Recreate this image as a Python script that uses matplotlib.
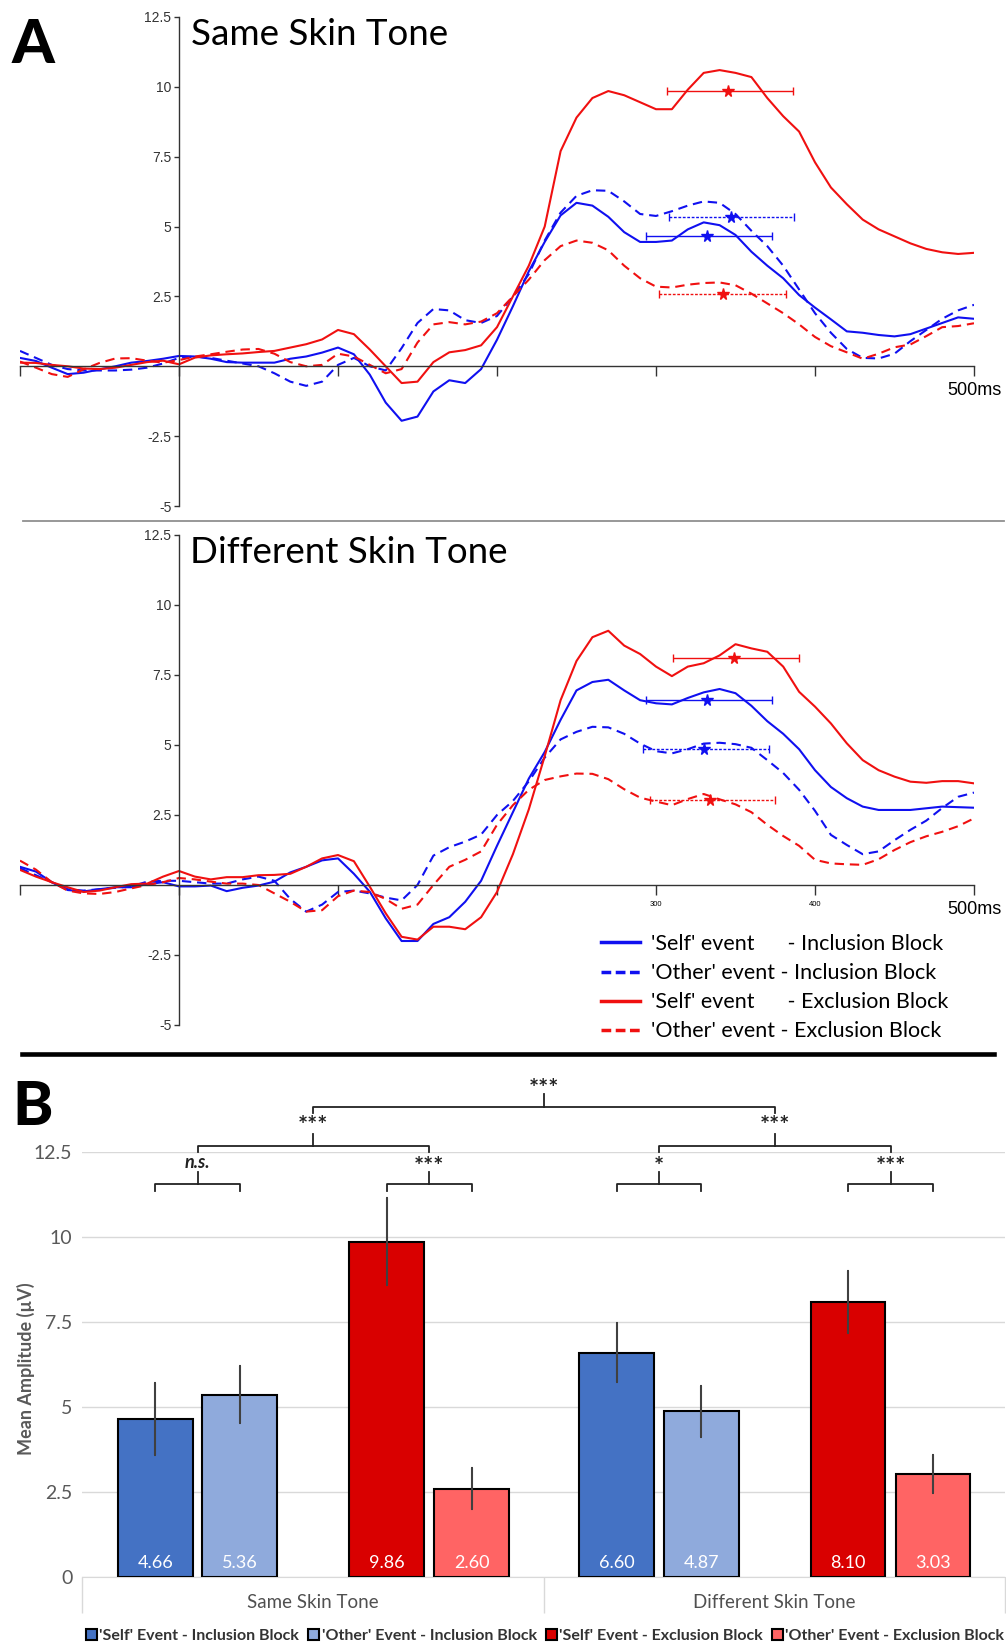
import numpy as np
import matplotlib.pyplot as plt
from matplotlib.lines import Line2D

plt.rcParams['font.family'] = ['Lato', 'DejaVu Sans']

# ERP time axis (ms), one sample every 10 ms
times = np.arange(-100, 510, 10)

# panel A, same skin tone (µV)
same_self_incl = [0.30, 0.19, -0.05, -0.28, -0.23, -0.11, 0.00, 0.13, 0.19, 0.27,
                  0.37, 0.35, 0.27, 0.15, 0.13, 0.13, 0.13, 0.27, 0.35, 0.49,
                  0.67, 0.43, -0.30, -1.30, -1.95, -1.80, -0.90, -0.50, -0.60, -0.10,
                  0.95, 2.15, 3.40, 4.45, 5.40, 5.85, 5.75, 5.35, 4.80, 4.45,
                  4.45, 4.50, 4.90, 5.15, 5.05, 4.70, 4.10, 3.60, 3.15, 2.55,
                  2.10, 1.68, 1.25, 1.20, 1.12, 1.07, 1.15, 1.35, 1.55, 1.75,
                  1.70]
same_other_incl = [0.55, 0.30, 0.05, -0.10, -0.15, -0.15, -0.15, -0.12, -0.05, 0.10,
                   0.30, 0.35, 0.30, 0.20, 0.10, 0.00, -0.25, -0.55, -0.70, -0.55,
                   0.05, 0.30, 0.00, -0.15, 0.65, 1.55, 2.05, 2.00, 1.65, 1.55,
                   1.80, 2.50, 3.30, 4.50, 5.50, 6.10, 6.30, 6.28, 5.90, 5.45,
                   5.38, 5.55, 5.75, 5.90, 5.85, 5.45, 4.85, 4.30, 3.60, 2.75,
                   1.90, 1.20, 0.62, 0.30, 0.28, 0.45, 0.90, 1.30, 1.70, 2.00,
                   2.20]
same_self_excl = [0.13, 0.12, 0.05, 0.00, -0.08, -0.10, -0.05, 0.05, 0.15, 0.20,
                  0.07, 0.31, 0.39, 0.43, 0.46, 0.51, 0.55, 0.67, 0.79, 0.96,
                  1.30, 1.15, 0.60, 0.00, -0.60, -0.55, 0.15, 0.50, 0.58, 0.75,
                  1.40, 2.50, 3.60, 5.00, 7.70, 8.90, 9.60, 9.85, 9.70, 9.45,
                  9.20, 9.20, 9.90, 10.50, 10.60, 10.50, 10.35, 9.60, 8.95, 8.40,
                  7.30, 6.40, 5.80, 5.25, 4.90, 4.65, 4.40, 4.20, 4.08, 4.02,
                  4.06]
same_other_excl = [0.17, -0.05, -0.28, -0.38, -0.11, 0.12, 0.28, 0.29, 0.20, 0.13,
                   0.22, 0.35, 0.43, 0.52, 0.60, 0.62, 0.45, 0.15, 0.00, 0.05,
                   0.45, 0.35, 0.05, -0.25, -0.10, 0.85, 1.50, 1.58, 1.50, 1.60,
                   1.90, 2.50, 3.10, 3.80, 4.30, 4.50, 4.42, 4.15, 3.60, 3.15,
                   2.85, 2.82, 2.92, 2.98, 3.00, 2.90, 2.60, 2.25, 1.90, 1.50,
                   1.05, 0.72, 0.50, 0.27, 0.45, 0.68, 0.78, 1.08, 1.40, 1.44,
                   1.54]

# panel A, different skin tone (µV)
diff_self_incl = [0.65, 0.48, 0.10, -0.18, -0.23, -0.15, -0.08, -0.08, 0.03, 0.10,
                  -0.05, -0.05, -0.02, -0.22, -0.10, -0.02, 0.12, 0.45, 0.65, 0.88,
                  0.95, 0.40, -0.24, -1.19, -2.00, -2.00, -1.39, -1.15, -0.60, 0.15,
                  1.40, 2.60, 3.80, 4.75, 5.90, 6.95, 7.25, 7.33, 6.95, 6.60,
                  6.49, 6.45, 6.68, 6.88, 7.00, 6.85, 6.40, 5.85, 5.40, 4.85,
                  4.10, 3.50, 3.10, 2.80, 2.68, 2.68, 2.68, 2.74, 2.80, 2.78,
                  2.76]
diff_other_incl = [0.60, 0.35, 0.10, -0.15, -0.20, -0.15, -0.10, -0.05, 0.12, 0.15,
                   0.15, 0.10, 0.05, 0.05, 0.20, 0.30, 0.15, -0.50, -0.95, -0.70,
                   -0.25, -0.20, -0.30, -0.45, -0.55, 0.00, 1.05, 1.35, 1.55, 1.80,
                   2.50, 3.00, 3.70, 4.55, 5.20, 5.47, 5.65, 5.63, 5.40, 5.05,
                   4.78, 4.70, 4.85, 5.05, 5.08, 5.03, 4.90, 4.46, 4.00, 3.40,
                   2.65, 1.79, 1.43, 1.10, 1.20, 1.60, 1.97, 2.30, 2.75, 3.15,
                   3.30]
diff_self_excl = [0.54, 0.30, 0.10, -0.08, -0.25, -0.20, -0.08, 0.03, 0.05, 0.30,
                  0.50, 0.30, 0.20, 0.28, 0.28, 0.35, 0.36, 0.40, 0.65, 0.95,
                  1.07, 0.85, -0.06, -1.01, -1.85, -1.95, -1.49, -1.49, -1.58, -1.15,
                  -0.25, 1.10, 2.70, 4.60, 6.60, 8.00, 8.85, 9.08, 8.55, 8.25,
                  7.80, 7.46, 7.80, 7.92, 8.20, 8.60, 8.45, 8.33, 7.80, 6.90,
                  6.37, 5.77, 5.06, 4.46, 4.10, 3.87, 3.69, 3.65, 3.71, 3.71,
                  3.63]
diff_other_excl = [0.87, 0.55, 0.10, -0.20, -0.30, -0.32, -0.25, -0.12, 0.00, 0.10,
                   0.25, 0.20, 0.12, 0.05, 0.05, 0.00, -0.30, -0.60, -0.95, -0.90,
                   -0.40, -0.20, -0.25, -0.50, -0.85, -0.70, 0.00, 0.65, 0.90, 1.20,
                   2.15, 2.85, 3.40, 3.75, 3.88, 3.98, 3.97, 3.78, 3.42, 3.12,
                   2.98, 2.85, 3.07, 3.25, 3.06, 2.88, 2.60, 2.15, 1.75, 1.40,
                   0.90, 0.77, 0.74, 0.72, 0.92, 1.25, 1.53, 1.74, 1.90, 2.10,
                   2.38]

# mean amplitudes and SE (panel B), order: self-incl, other-incl, self-excl, other-excl
amp_same = [4.66, 5.36, 9.86, 2.60]
amp_diff = [6.60, 4.87, 8.10, 3.03]
err_same = [1.06, 0.84, 1.28, 0.60]
err_diff = [0.86, 0.75, 0.91, 0.56]

# peak latency and measurement window (ms)
lat_same = [332, 347, 345, 342]
lo_same = [294, 308, 307, 302]
hi_same = [373, 387, 386, 382]
lat_diff = [332, 330, 349, 334]
lo_diff = [294, 292, 311, 296]
hi_diff = [373, 371, 390, 375]

erp_labels = ["'Self' event      - Inclusion Block", "'Other' event - Inclusion Block",
              "'Self' event      - Exclusion Block", "'Other' event - Exclusion Block"]
bar_labels = ["'Self' Event - Inclusion Block", "'Other' Event - Inclusion Block",
              "'Self' Event - Exclusion Block", "'Other' Event - Exclusion Block"]
groups = ['Same Skin Tone', 'Different Skin Tone']
sig_pairs = ['n.s.', '***', '*', '***']
sig_blocks = ['***', '***']
sig_tone = '***'

erp_colors = ['#1010f0', '#1010f0', '#f01010', '#f01010']
erp_styles = ['-', (0, (4.5, 2.8)), '-', (0, (4.5, 2.8))]
bar_colors = ['#4472c4', '#8faadc', '#d90000', '#ff6464']

W, H = 1006, 1645
fig = plt.figure(figsize=(W / 100, H / 100), dpi=100)


def px_axes(left, top, right, bottom):
    return fig.add_axes([left / W, 1 - bottom / H, (right - left) / W, (bottom - top) / H])


def erp_panel(ax, curves, lat, lo, hi, amps, xlabels):
    for y, c, ls in zip(curves, erp_colors, erp_styles):
        ax.plot(times, y, color=c, ls=ls, lw=1.5, solid_joinstyle='round', dash_joinstyle='round')
    for k in range(4):
        eb = ax.errorbar(lat[k], amps[k], xerr=[[lat[k] - lo[k]], [hi[k] - lat[k]]],
                         fmt='*', ms=8.5, color=erp_colors[k], elinewidth=1.0,
                         capsize=3, capthick=1.0, zorder=5)
        if k % 2 == 1:
            eb[2][0].set_linestyle((0, (2, 1.2)))
    ax.set_xlim(-100, 500)
    ax.set_ylim(-5, 12.5)
    ax.patch.set_alpha(0)
    for s in ['top', 'right']:
        ax.spines[s].set_visible(False)
    for s in ['left', 'bottom']:
        ax.spines[s].set_position(('data', 0))
        ax.spines[s].set_color('#333333')
        ax.spines[s].set_linewidth(1.0)
    yt = [-5, -2.5, 2.5, 5, 7.5, 10, 12.5]
    ax.set_yticks(yt)
    ax.set_yticklabels(['%g' % v for v in yt], family='Liberation Sans', fontsize=10)
    ax.tick_params(axis='y', length=3.5, width=1, pad=2, colors='#333333')
    ax.set_xticks([-100, 0, 100, 200, 300, 400, 500])
    ax.set_xticklabels(xlabels, family='Liberation Sans', fontsize=5.5)
    ax.get_xticklabels()[-1].set_fontsize(13)
    ax.tick_params(axis='x', length=7, width=1, pad=4.5, colors='#333333')
    for t in ax.get_xticklabels():
        t.set_color('black')


ax1 = px_axes(20, 17, 974, 506)
erp_panel(ax1, [same_self_incl, same_other_incl, same_self_excl, same_other_excl],
          lat_same, lo_same, hi_same, amp_same, ['', '', '', '', '', '', '500ms'])

ax2 = px_axes(20, 535, 974, 1025)
erp_panel(ax2, [diff_self_incl, diff_other_incl, diff_self_excl, diff_other_excl],
          lat_diff, lo_diff, hi_diff, amp_diff, ['', '', '', '', '300', '400', '500ms'])

fig.text(191 / W, 1 - 45 / H, 'Same Skin Tone', fontsize=26.5, va='baseline')
fig.text(190 / W, 1 - 563 / H, 'Different Skin Tone', fontsize=26.5, va='baseline')
fig.text(12 / W, 1 - 63 / H, 'A', fontsize=44, weight='black', va='baseline')
fig.text(12 / W, 1 - 1125 / H, 'B', fontsize=44, weight='black', va='baseline')

handles = [Line2D([], [], color=c, lw=2.5, ls='-' if k % 2 == 0 else (0, (2.8, 1.3)))
           for k, c in enumerate(erp_colors)]
ax2.legend(handles, erp_labels, loc='upper left', bbox_to_anchor=((601 - 20) / 954, (1025 - 934) / 490),
           frameon=False, fontsize=15.5, handlelength=1.8, handletextpad=0.5,
           labelspacing=0.42, borderpad=0, borderaxespad=0)

# separators
fig.add_artist(Line2D([23 / W, 1004 / W], [1 - 521 / H] * 2, color='#909090', lw=1.3))
fig.add_artist(Line2D([22 / W, 994 / W], [1 - 1054 / H] * 2, color='black', lw=3.3))

# panel B
ax3 = px_axes(82, 1152, 1005, 1577)
idx = np.arange(len(groups))
offsets = [-0.341, -0.158, 0.160, 0.344]
bar_w = 0.162
containers = []
for k in range(4):
    vals = [amp_same[k], amp_diff[k]]
    errs = [err_same[k], err_diff[k]]
    xs = idx + offsets[k]
    bc = ax3.bar(xs, vals, bar_w, color=bar_colors[k], edgecolor='black', linewidth=1.5,
                 yerr=errs, error_kw=dict(ecolor='#404040', elinewidth=1.5, capsize=1.0, capthick=1.5),
                 zorder=3)
    containers.append(bc)
    for x, v in zip(xs, vals):
        ax3.text(x, 0.42, '%.2f' % v, ha='center', va='center', color='white', fontsize=13, zorder=4)

ax3.set_xlim(-0.5, 1.5)
ax3.set_ylim(0, 12.5)
ax3.set_yticks([0, 2.5, 5, 7.5, 10, 12.5])
ax3.set_yticklabels(['%g' % v for v in [0, 2.5, 5, 7.5, 10, 12.5]])
ax3.set_axisbelow(True)
ax3.yaxis.grid(True, color='#d9d9d9', lw=1)
for s in ['top', 'right', 'left']:
    ax3.spines[s].set_visible(False)
ax3.spines['bottom'].set_color('#d9d9d9')
ax3.tick_params(axis='y', length=0, pad=7, labelsize=14, labelcolor='#595959')
ax3.set_xticks(idx)
ax3.set_xticklabels(groups)
ax3.tick_params(axis='x', which='major', length=0, pad=12, labelsize=13.5, labelcolor='#505050')
ax3.set_xticks([-0.5, 0.5, 1.5], minor=True)
ax3.tick_params(axis='x', which='minor', length=26, width=1, color='#d9d9d9')
ax3.set_ylabel('Mean Amplitude (µV)', fontsize=13, weight='bold', color='#595959')
ax3.yaxis.set_label_coords(-0.051, 0.49)

# significance brackets
small_lv = (11.35, 11.56, 11.91, 12.18)
mid_lv = (12.5, 12.68, 13.03, 13.38)
top_lv = (13.65, 13.82, 14.2, 14.47)


def bracket(x1, x2, lv, txt):
    xm = (x1 + x2) / 2
    ax3.plot([x1, x1, x2, x2], [lv[0], lv[1], lv[1], lv[0]], color='#222222', lw=1.3, clip_on=False)
    ax3.plot([xm, xm], [lv[1], lv[2]], color='#222222', lw=1.3, clip_on=False)
    if txt.startswith('*'):
        ax3.text(xm, lv[3] - 0.14, txt, ha='center', va='center', fontsize=17,
                 weight='bold', color='#222222')
    else:
        ax3.text(xm, lv[3], txt, ha='center', va='center', fontsize=13, style='italic',
                 weight='bold', color='#222222')
    return xm


tops = []
for g in idx:
    a = bracket(g + offsets[0], g + offsets[1], small_lv, sig_pairs[2 * g])
    b = bracket(g + offsets[2], g + offsets[3], small_lv, sig_pairs[2 * g + 1])
    tops.append(bracket(a, b, mid_lv, sig_blocks[g]))
bracket(tops[0], tops[1], top_lv, sig_tone)

fig.legend(containers, bar_labels, loc='center', bbox_to_anchor=(545 / W, 1 - 1636 / H), ncol=4,
           frameon=False, prop=dict(size=11.5, weight='bold'), labelcolor='#333333',
           handlelength=0.7, handleheight=0.7, handletextpad=0.15, columnspacing=0.55)

fig.savefig('out.png', dpi=100)
